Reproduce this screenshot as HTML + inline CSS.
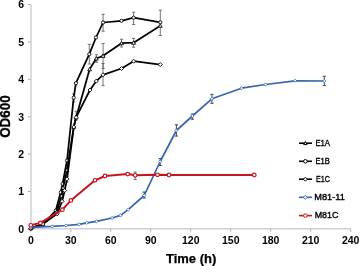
<!DOCTYPE html>
<html><head><meta charset="utf-8"><style>
html,body{margin:0;padding:0;background:#fff;}
svg{display:block;}
text{font-family:"Liberation Sans",Arial,sans-serif;fill:#000;}
.tk{font-size:10.5px;font-weight:bold;}
.lg{font-size:8.6px;stroke:#000;stroke-width:0.35px;}
.ttl{font-size:12.5px;font-weight:bold;}
.yt{font-size:13.4px;stroke:#000;stroke-width:0.3px;}
.tx{font-size:13px;stroke:#000;stroke-width:0.25px;}
</style></head><body>
<svg width="360" height="266" viewBox="0 0 360 266">
<path d="M31 4.5V228.8H351" stroke="#d0d0d0" stroke-width="1.5" fill="none"/>
<path d="M28 228.9H30.5" stroke="#a8a8a8" stroke-width="1"/>
<path d="M28 191.5H30.5" stroke="#a8a8a8" stroke-width="1"/>
<path d="M28 154.1H30.5" stroke="#a8a8a8" stroke-width="1"/>
<path d="M28 116.7H30.5" stroke="#a8a8a8" stroke-width="1"/>
<path d="M28 79.3H30.5" stroke="#a8a8a8" stroke-width="1"/>
<path d="M28 41.9H30.5" stroke="#a8a8a8" stroke-width="1"/>
<path d="M28 4.5H30.5" stroke="#a8a8a8" stroke-width="1"/>
<path d="M30.8 229.5V231.8" stroke="#a8a8a8" stroke-width="1"/>
<path d="M70.8 229.5V231.8" stroke="#a8a8a8" stroke-width="1"/>
<path d="M110.8 229.5V231.8" stroke="#a8a8a8" stroke-width="1"/>
<path d="M150.8 229.5V231.8" stroke="#a8a8a8" stroke-width="1"/>
<path d="M190.8 229.5V231.8" stroke="#a8a8a8" stroke-width="1"/>
<path d="M230.8 229.5V231.8" stroke="#a8a8a8" stroke-width="1"/>
<path d="M270.7 229.5V231.8" stroke="#a8a8a8" stroke-width="1"/>
<path d="M310.7 229.5V231.8" stroke="#a8a8a8" stroke-width="1"/>
<path d="M350.7 229.5V231.8" stroke="#a8a8a8" stroke-width="1"/>
<path d="M160.3 10.1V35.5M158.7 10.1H161.9M158.7 35.5H161.9" stroke="#555" stroke-width="0.8" fill="none"/>
<path d="M133.6 12.2V24.5M132.0 12.2H135.2M132.0 24.5H135.2" stroke="#555" stroke-width="0.8" fill="none"/>
<path d="M103.1 14.4V31.2M101.5 14.4H104.7M101.5 31.2H104.7" stroke="#555" stroke-width="0.8" fill="none"/>
<path d="M89.3 44.4V64.0M87.7 44.4H90.9M87.7 64.0H90.9" stroke="#555" stroke-width="0.8" fill="none"/>
<path d="M121.5 39.3V47.0M119.9 39.3H123.1M119.9 47.0H123.1" stroke="#555" stroke-width="0.8" fill="none"/>
<path d="M133.6 38.4V47.2M132.0 38.4H135.2M132.0 47.2H135.2" stroke="#555" stroke-width="0.8" fill="none"/>
<path d="M103.1 43.5V68.5M101.5 43.5H104.7M101.5 68.5H104.7" stroke="#555" stroke-width="0.8" fill="none"/>
<path d="M96.4 54.7V62.3M94.8 54.7H98.0M94.8 62.3H98.0" stroke="#555" stroke-width="0.8" fill="none"/>
<path d="M103.0 63.5V85.6M101.4 63.5H104.6M101.4 85.6H104.6" stroke="#555" stroke-width="0.8" fill="none"/>
<path d="M76.1 111.3V120.2M74.5 111.3H77.7M74.5 120.2H77.7" stroke="#555" stroke-width="0.8" fill="none"/>
<path d="M73.7 94.0V102.0M72.1 94.0H75.3M72.1 102.0H75.3" stroke="#555" stroke-width="0.8" fill="none"/>
<path d="M67.0 176.0V182.0M65.4 176.0H68.6M65.4 182.0H68.6" stroke="#555" stroke-width="0.8" fill="none"/>
<path d="M176.4 124.8V136.1M174.8 124.8H178.0M174.8 136.1H178.0" stroke="#333" stroke-width="0.9" fill="none"/>
<path d="M192.4 114.0V119.2M190.8 114.0H194.0M190.8 119.2H194.0" stroke="#333" stroke-width="0.9" fill="none"/>
<path d="M211.9 94.3V103.3M210.3 94.3H213.5M210.3 103.3H213.5" stroke="#333" stroke-width="0.9" fill="none"/>
<path d="M324.3 76.3V85.6M322.7 76.3H325.9M322.7 85.6H325.9" stroke="#333" stroke-width="0.9" fill="none"/>
<path d="M160.2 158.5V165.5M158.6 158.5H161.8M158.6 165.5H161.8" stroke="#333" stroke-width="0.9" fill="none"/>
<path d="M144.2 192.0V198.0M142.6 192.0H145.8M142.6 198.0H145.8" stroke="#333" stroke-width="0.9" fill="none"/>
<path d="M135.2 172.0V179.5M133.6 172.0H136.8M133.6 179.5H136.8" stroke="#555" stroke-width="0.8" fill="none"/>
<polyline points="30.8,228.3 42.8,224.1 55.8,210.5 60.7,192.3 62.6,183.9 67.0,160.5 73.7,97.7 75.9,83.2 89.3,54.2 96.0,37.5 103.1,22.5 121.5,20.8 133.6,17.7 160.3,22.3" fill="none" stroke="#000" stroke-width="1.75" stroke-linejoin="round"/>
<circle cx="30.8" cy="228.3" r="1.6" fill="#fff" stroke="#000" stroke-width="0.9"/>
<circle cx="42.8" cy="224.1" r="1.6" fill="#fff" stroke="#000" stroke-width="0.9"/>
<circle cx="55.8" cy="210.5" r="1.6" fill="#fff" stroke="#000" stroke-width="0.9"/>
<circle cx="60.7" cy="192.3" r="1.6" fill="#fff" stroke="#000" stroke-width="0.9"/>
<circle cx="62.6" cy="183.9" r="1.6" fill="#fff" stroke="#000" stroke-width="0.9"/>
<circle cx="67.0" cy="160.5" r="1.6" fill="#fff" stroke="#000" stroke-width="0.9"/>
<circle cx="73.7" cy="97.7" r="1.6" fill="#fff" stroke="#000" stroke-width="0.9"/>
<circle cx="75.9" cy="83.2" r="1.6" fill="#fff" stroke="#000" stroke-width="0.9"/>
<circle cx="89.3" cy="54.2" r="1.6" fill="#fff" stroke="#000" stroke-width="0.9"/>
<circle cx="96.0" cy="37.5" r="1.6" fill="#fff" stroke="#000" stroke-width="0.9"/>
<circle cx="103.1" cy="22.5" r="1.6" fill="#fff" stroke="#000" stroke-width="0.9"/>
<circle cx="121.5" cy="20.8" r="1.6" fill="#fff" stroke="#000" stroke-width="0.9"/>
<circle cx="133.6" cy="17.7" r="1.6" fill="#fff" stroke="#000" stroke-width="0.9"/>
<circle cx="160.3" cy="22.3" r="1.6" fill="#fff" stroke="#000" stroke-width="0.9"/>
<polyline points="30.8,228.3 42.8,224.1 56.5,212.0 61.6,195.9 63.0,187.6 67.0,169.9 73.8,126.8 76.1,117.4 89.6,69.3 96.3,58.5 103.1,55.8 121.5,43.2 133.6,42.7 160.3,25.7" fill="none" stroke="#000" stroke-width="1.75" stroke-linejoin="round"/>
<path d="M30.8 226.4L32.7 229.8L28.9 229.8Z" fill="#fff" stroke="#000" stroke-width="0.9"/>
<path d="M42.8 222.2L44.7 225.6L40.9 225.6Z" fill="#fff" stroke="#000" stroke-width="0.9"/>
<path d="M56.5 210.1L58.4 213.5L54.6 213.5Z" fill="#fff" stroke="#000" stroke-width="0.9"/>
<path d="M61.6 194.0L63.5 197.4L59.7 197.4Z" fill="#fff" stroke="#000" stroke-width="0.9"/>
<path d="M63.0 185.7L64.9 189.1L61.1 189.1Z" fill="#fff" stroke="#000" stroke-width="0.9"/>
<path d="M67.0 168.0L68.9 171.4L65.1 171.4Z" fill="#fff" stroke="#000" stroke-width="0.9"/>
<path d="M73.8 124.9L75.7 128.3L71.9 128.3Z" fill="#fff" stroke="#000" stroke-width="0.9"/>
<path d="M76.1 115.5L78.0 118.9L74.2 118.9Z" fill="#fff" stroke="#000" stroke-width="0.9"/>
<path d="M89.6 67.4L91.5 70.8L87.7 70.8Z" fill="#fff" stroke="#000" stroke-width="0.9"/>
<path d="M96.3 56.6L98.2 60.0L94.4 60.0Z" fill="#fff" stroke="#000" stroke-width="0.9"/>
<path d="M103.1 53.9L105.0 57.3L101.2 57.3Z" fill="#fff" stroke="#000" stroke-width="0.9"/>
<path d="M121.5 41.3L123.4 44.7L119.6 44.7Z" fill="#fff" stroke="#000" stroke-width="0.9"/>
<path d="M133.6 40.8L135.5 44.2L131.7 44.2Z" fill="#fff" stroke="#000" stroke-width="0.9"/>
<path d="M160.3 23.8L162.2 27.2L158.4 27.2Z" fill="#fff" stroke="#000" stroke-width="0.9"/>
<polyline points="30.8,228.3 42.8,224.1 57.2,213.8 62.1,201.3 64.7,190.5 67.0,179.1 73.8,127.0 76.1,117.4 90.0,90.0 96.3,81.1 103.0,74.8 121.5,68.5 133.6,61.2 160.3,64.6" fill="none" stroke="#000" stroke-width="1.75" stroke-linejoin="round"/>
<path d="M30.8 226.3L32.8 228.3L30.8 230.3L28.8 228.3Z" fill="#fff" stroke="#000" stroke-width="0.9"/>
<path d="M42.8 222.1L44.8 224.1L42.8 226.1L40.8 224.1Z" fill="#fff" stroke="#000" stroke-width="0.9"/>
<path d="M57.2 211.8L59.2 213.8L57.2 215.8L55.2 213.8Z" fill="#fff" stroke="#000" stroke-width="0.9"/>
<path d="M62.1 199.3L64.1 201.3L62.1 203.3L60.1 201.3Z" fill="#fff" stroke="#000" stroke-width="0.9"/>
<path d="M64.7 188.5L66.7 190.5L64.7 192.5L62.7 190.5Z" fill="#fff" stroke="#000" stroke-width="0.9"/>
<path d="M67.0 177.1L69.0 179.1L67.0 181.1L65.0 179.1Z" fill="#fff" stroke="#000" stroke-width="0.9"/>
<path d="M73.8 125.0L75.8 127.0L73.8 129.0L71.8 127.0Z" fill="#fff" stroke="#000" stroke-width="0.9"/>
<path d="M76.1 115.4L78.1 117.4L76.1 119.4L74.1 117.4Z" fill="#fff" stroke="#000" stroke-width="0.9"/>
<path d="M90.0 88.0L92.0 90.0L90.0 92.0L88.0 90.0Z" fill="#fff" stroke="#000" stroke-width="0.9"/>
<path d="M96.3 79.1L98.3 81.1L96.3 83.1L94.3 81.1Z" fill="#fff" stroke="#000" stroke-width="0.9"/>
<path d="M103.0 72.8L105.0 74.8L103.0 76.8L101.0 74.8Z" fill="#fff" stroke="#000" stroke-width="0.9"/>
<path d="M121.5 66.5L123.5 68.5L121.5 70.5L119.5 68.5Z" fill="#fff" stroke="#000" stroke-width="0.9"/>
<path d="M133.6 59.2L135.6 61.2L133.6 63.2L131.6 61.2Z" fill="#fff" stroke="#000" stroke-width="0.9"/>
<path d="M160.3 62.6L162.3 64.6L160.3 66.6L158.3 64.6Z" fill="#fff" stroke="#000" stroke-width="0.9"/>
<polyline points="30.8,227.3 52.3,226.4 66.0,225.5 79.2,224.3 86.8,222.8 96.5,221.3 112.1,218.0 120.5,215.4 128.2,209.6 144.2,195.5 160.2,161.5 176.4,130.5 192.4,116.0 211.9,98.8 241.5,88.2 265.5,84.5 295.0,80.8 324.3,81.0" fill="none" stroke="#3565ac" stroke-width="1.7" stroke-linejoin="round"/>
<path d="M30.8 225.7L32.4 227.3L30.8 228.9L29.2 227.3Z" fill="#fff" stroke="#3565ac" stroke-width="0.8"/>
<path d="M52.3 224.8L53.9 226.4L52.3 228.0L50.7 226.4Z" fill="#fff" stroke="#3565ac" stroke-width="0.8"/>
<path d="M66.0 223.9L67.6 225.5L66.0 227.1L64.4 225.5Z" fill="#fff" stroke="#3565ac" stroke-width="0.8"/>
<path d="M79.2 222.7L80.8 224.3L79.2 225.9L77.6 224.3Z" fill="#fff" stroke="#3565ac" stroke-width="0.8"/>
<path d="M86.8 221.2L88.4 222.8L86.8 224.4L85.2 222.8Z" fill="#fff" stroke="#3565ac" stroke-width="0.8"/>
<path d="M96.5 219.7L98.1 221.3L96.5 222.9L94.9 221.3Z" fill="#fff" stroke="#3565ac" stroke-width="0.8"/>
<path d="M112.1 216.4L113.7 218.0L112.1 219.6L110.5 218.0Z" fill="#fff" stroke="#3565ac" stroke-width="0.8"/>
<path d="M120.5 213.8L122.1 215.4L120.5 217.0L118.9 215.4Z" fill="#fff" stroke="#3565ac" stroke-width="0.8"/>
<path d="M128.2 208.0L129.8 209.6L128.2 211.2L126.6 209.6Z" fill="#fff" stroke="#3565ac" stroke-width="0.8"/>
<path d="M144.2 193.9L145.8 195.5L144.2 197.1L142.6 195.5Z" fill="#fff" stroke="#3565ac" stroke-width="0.8"/>
<path d="M160.2 159.9L161.8 161.5L160.2 163.1L158.6 161.5Z" fill="#fff" stroke="#3565ac" stroke-width="0.8"/>
<path d="M176.4 128.9L178.0 130.5L176.4 132.1L174.8 130.5Z" fill="#fff" stroke="#3565ac" stroke-width="0.8"/>
<path d="M192.4 114.4L194.0 116.0L192.4 117.6L190.8 116.0Z" fill="#fff" stroke="#3565ac" stroke-width="0.8"/>
<path d="M211.9 97.2L213.5 98.8L211.9 100.4L210.3 98.8Z" fill="#fff" stroke="#3565ac" stroke-width="0.8"/>
<path d="M241.5 86.6L243.1 88.2L241.5 89.8L239.9 88.2Z" fill="#fff" stroke="#3565ac" stroke-width="0.8"/>
<path d="M265.5 82.9L267.1 84.5L265.5 86.1L263.9 84.5Z" fill="#fff" stroke="#3565ac" stroke-width="0.8"/>
<path d="M295.0 79.2L296.6 80.8L295.0 82.3L293.4 80.8Z" fill="#fff" stroke="#3565ac" stroke-width="0.8"/>
<path d="M324.3 79.4L325.9 81.0L324.3 82.6L322.7 81.0Z" fill="#fff" stroke="#3565ac" stroke-width="0.8"/>
<polyline points="30.8,225.3 40.4,222.9 62.4,209.7 70.9,200.4 95.0,180.3 105.0,176.0 127.7,174.1 135.2,175.3 157.5,174.8 169.0,175.0 254.3,175.0" fill="none" stroke="#c8141c" stroke-width="2" stroke-linejoin="round"/>
<circle cx="30.8" cy="225.3" r="1.8" fill="#fff" stroke="#c8141c" stroke-width="1.2"/>
<circle cx="40.4" cy="222.9" r="1.8" fill="#fff" stroke="#c8141c" stroke-width="1.2"/>
<circle cx="62.4" cy="209.7" r="1.8" fill="#fff" stroke="#c8141c" stroke-width="1.2"/>
<circle cx="70.9" cy="200.4" r="1.8" fill="#fff" stroke="#c8141c" stroke-width="1.2"/>
<circle cx="95.0" cy="180.3" r="1.8" fill="#fff" stroke="#c8141c" stroke-width="1.2"/>
<circle cx="105.0" cy="176.0" r="1.8" fill="#fff" stroke="#c8141c" stroke-width="1.2"/>
<circle cx="127.7" cy="174.1" r="1.8" fill="#fff" stroke="#c8141c" stroke-width="1.2"/>
<circle cx="135.2" cy="175.3" r="1.8" fill="#fff" stroke="#c8141c" stroke-width="1.2"/>
<circle cx="157.5" cy="174.8" r="1.8" fill="#fff" stroke="#c8141c" stroke-width="1.2"/>
<circle cx="169.0" cy="175.0" r="1.8" fill="#fff" stroke="#c8141c" stroke-width="1.2"/>
<circle cx="254.3" cy="175.0" r="1.8" fill="#fff" stroke="#c8141c" stroke-width="1.2"/>
<path d="M299 143.2H312" stroke="#000" stroke-width="1.6"/>
<path d="M305.4 141.5L307.1 144.6L303.7 144.6Z" fill="#fff" stroke="#000" stroke-width="1.0"/>
<text x="315.4" y="146.0" class="lg" textLength="14.6" lengthAdjust="spacingAndGlyphs">E1A</text>
<path d="M299 161.3H312" stroke="#000" stroke-width="1.6"/>
<circle cx="305.4" cy="161.3" r="1.8" fill="#fff" stroke="#000" stroke-width="1.0"/>
<text x="315.4" y="164.0" class="lg" textLength="14.4" lengthAdjust="spacingAndGlyphs">E1B</text>
<path d="M299 179.2H312" stroke="#000" stroke-width="1.6"/>
<path d="M305.4 177.2L307.4 179.2L305.4 181.2L303.4 179.2Z" fill="#fff" stroke="#000" stroke-width="1.0"/>
<text x="315.9" y="182.0" class="lg" textLength="13.9" lengthAdjust="spacingAndGlyphs">E1C</text>
<path d="M299 197.3H312" stroke="#3565ac" stroke-width="1.6"/>
<path d="M305.4 195.3L307.4 197.3L305.4 199.3L303.4 197.3Z" fill="#fff" stroke="#3565ac" stroke-width="1.0"/>
<text x="314.3" y="200.3" class="lg" textLength="30.5" lengthAdjust="spacingAndGlyphs">M81-11</text>
<path d="M299 215.6H312" stroke="#c8141c" stroke-width="1.6"/>
<circle cx="305.4" cy="215.6" r="1.8" fill="#fff" stroke="#c8141c" stroke-width="1.0"/>
<text x="314.7" y="218.4" class="lg" textLength="23.6" lengthAdjust="spacingAndGlyphs">M81C</text>
<text x="24" y="232.8" class="tk" text-anchor="end">0</text>
<text x="24" y="195.4" class="tk" text-anchor="end">1</text>
<text x="24" y="158.0" class="tk" text-anchor="end">2</text>
<text x="24" y="120.6" class="tk" text-anchor="end">3</text>
<text x="24" y="83.2" class="tk" text-anchor="end">4</text>
<text x="24" y="45.8" class="tk" text-anchor="end">5</text>
<text x="24" y="8.4" class="tk" text-anchor="end">6</text>
<text x="30.8" y="244" class="tk" text-anchor="middle">0</text>
<text x="70.8" y="244" class="tk" text-anchor="middle">30</text>
<text x="110.8" y="244" class="tk" text-anchor="middle">60</text>
<text x="150.8" y="244" class="tk" text-anchor="middle">90</text>
<text x="190.8" y="244" class="tk" text-anchor="middle">120</text>
<text x="230.8" y="244" class="tk" text-anchor="middle">150</text>
<text x="270.7" y="244" class="tk" text-anchor="middle">180</text>
<text x="310.7" y="244" class="tk" text-anchor="middle">210</text>
<text x="350.7" y="244" class="tk" text-anchor="middle">240</text>
<text x="166.0" y="263.3" class="ttl tx" textLength="50.3" lengthAdjust="spacingAndGlyphs">Time (h)</text>
<text transform="translate(10.0,116.6) rotate(-90) scale(1,1.08)" class="ttl yt" text-anchor="middle">OD600</text>
</svg>
</body></html>
